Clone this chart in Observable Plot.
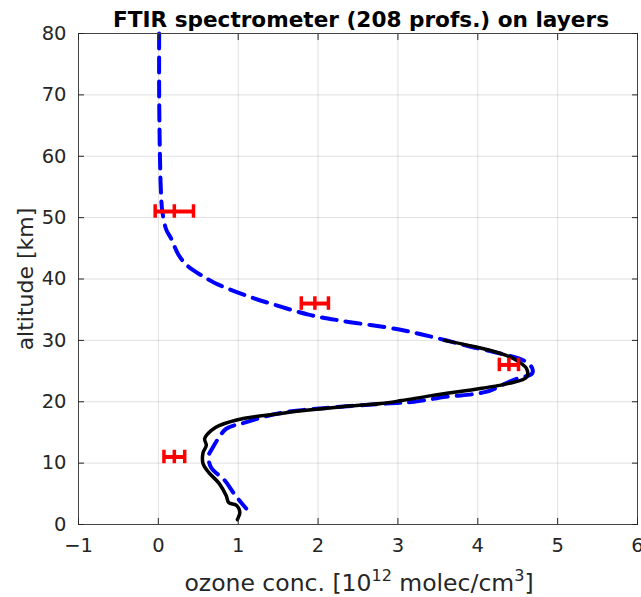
<!DOCTYPE html>
<html>
<head>
<meta charset="utf-8">
<script src="https://cdn.jsdelivr.net/npm/d3@7"></script>
<script src="https://cdn.jsdelivr.net/npm/@observablehq/plot@0.6"></script>
<style>
  html, body { margin: 0; padding: 0; background: #fff; overflow: hidden; }
</style>
</head>
<body>
<div id="chart"></div>
<script>
// a priori profile (blue dashed)
const aprioriAlt = [80, 70, 60, 55, 51, 48, 46.6, 44, 42.2, 40.5, 39.4, 37.3, 35.7, 34.2, 33.2, 31.8, 30.5, 29, 27.8, 26.7, 25.5, 24.6, 23.8, 23.3, 21.6, 20.8, 20.0, 19.7, 19.0, 18.1, 16.6, 15.6, 14, 12.5, 11.2, 9.3, 7.2, 5, 2.6];
const aprioriVal = [0.01, 0.01, 0.02, 0.03, 0.05, 0.1, 0.16, 0.25, 0.36, 0.55, 0.70, 1.10, 1.48, 1.88, 2.29, 3.0, 3.45, 3.9, 4.3, 4.58, 4.68, 4.68, 4.5, 4.4, 4.1, 3.6, 3.2, 2.85, 2.1, 1.5, 1.08, 0.85, 0.75, 0.68, 0.63, 0.66, 0.83, 0.95, 1.1];

// retrieved profile (black solid)
const retrAlt = [30, 29, 28, 27, 25.4, 24, 23, 22.2, 21, 20.2, 19.7, 19.2, 18.6, 18.1, 17.3, 16.1, 15.3, 14, 12.9, 11.7, 9.9, 8.5, 6.7, 4.7, 3.6, 3.1, 2, 1.1, 0.8];
const retrVal = [3.58, 3.95, 4.25, 4.45, 4.61, 4.61, 4.39, 4.05, 3.42, 3.05, 2.79, 2.3, 1.85, 1.54, 1.08, 0.76, 0.66, 0.58, 0.6, 0.56, 0.56, 0.63, 0.76, 0.85, 0.88, 0.98, 1.02, 1.0, 0.99];

// FTIR layer values with error bars (red)
const layerAlt = [51, 36, 26, 11];
const layerVal = [0.2, 1.96, 4.39, 0.2];
const layerErr = [0.24, 0.17, 0.12, 0.13];

const xTicks = [-1, 0, 1, 2, 3, 4, 5, 6];
const yTicks = [0, 10, 20, 30, 40, 50, 60, 70, 80];

const titleText = "FTIR spectrometer (208 profs.) on layers";
const yLabelText = "altitude [km]";

const apriori = aprioriAlt.map((a, i) => ({alt: a, v: aprioriVal[i]}));
const retrieved = retrAlt.map((a, i) => ({alt: a, v: retrVal[i]}));
const layers = layerAlt.map((a, i) => ({alt: a, v: layerVal[i], e: layerErr[i]}));
const caps = layers.flatMap(d => [d.v - d.e, d.v, d.v + d.e].map(x => ({alt: d.alt, x})));

const W = 641, H = 597, ML = 78, MR = 4, MT = 33, MB = 73;
const axisColor = "#262626";
const font = "DejaVu Sans";

const chart = Plot.plot({
  width: W, height: H,
  marginLeft: ML, marginRight: MR, marginTop: MT, marginBottom: MB,
  style: {fontFamily: font, fontSize: "19.5px", color: axisColor, background: "#fff", overflow: "visible"},
  x: {domain: [-1, 6]},
  y: {domain: [0, 80]},
  marks: [
    Plot.gridX(xTicks, {stroke: "#000", strokeOpacity: 0.12, strokeWidth: 1}),
    Plot.gridY(yTicks, {stroke: "#000", strokeOpacity: 0.12, strokeWidth: 1}),
    Plot.line(apriori, {x: "v", y: "alt", stroke: "#0000ff", strokeWidth: 4, strokeDasharray: "15,9", curve: "catmull-rom"}),
    Plot.line(retrieved, {x: "v", y: "alt", stroke: "#000", strokeWidth: 3.5, curve: "catmull-rom"}),
    Plot.link(layers, {x1: d => d.v - d.e, x2: d => d.v + d.e, y1: "alt", y2: "alt", stroke: "#ff0000", strokeWidth: 4}),
    Plot.ruleX(caps, {x: "x", y1: d => d.alt - 1.1, y2: d => d.alt + 1.1, stroke: "#ff0000", strokeWidth: 3.5}),
    Plot.frame({stroke: "#444", strokeWidth: 1}),
    Plot.axisX(xTicks, {anchor: "bottom", tickSize: -6, tickPadding: 20, label: null, stroke: axisColor}),
    Plot.axisX(xTicks, {anchor: "top", tickSize: -6, tickFormat: () => "", label: null, stroke: axisColor}),
    Plot.axisY(yTicks, {anchor: "left", tickSize: -6, tickPadding: 18, label: null, stroke: axisColor}),
    Plot.axisY(yTicks, {anchor: "right", tickSize: -6, tickFormat: () => "", label: null, stroke: axisColor})
  ]
});

const svg = d3.select(chart);
const cx = ML + (W - ML - MR) / 2;

svg.append("text")
  .attr("x", 361).attr("y", 27)
  .attr("text-anchor", "middle")
  .attr("font-family", font).attr("font-weight", "bold").attr("font-size", 21.6)
  .attr("fill", "#000")
  .text(titleText);

const xl = svg.append("text")
  .attr("x", 359).attr("y", 591)
  .attr("text-anchor", "middle")
  .attr("font-family", font).attr("font-size", 23.5)
  .attr("fill", axisColor);
xl.append("tspan").text("ozone conc. [10");
xl.append("tspan").attr("dy", -10).attr("font-size", 16).text("12");
xl.append("tspan").attr("dy", 10).text(" molec/cm");
xl.append("tspan").attr("dy", -10).attr("font-size", 16).text("3");
xl.append("tspan").attr("dy", 10).text("]");

svg.append("text")
  .attr("transform", `translate(33,279) rotate(-90)`)
  .attr("text-anchor", "middle")
  .attr("font-family", font).attr("font-size", 22)
  .attr("fill", axisColor)
  .text(yLabelText);

document.getElementById("chart").appendChild(chart);
</script>
</body>
</html>
